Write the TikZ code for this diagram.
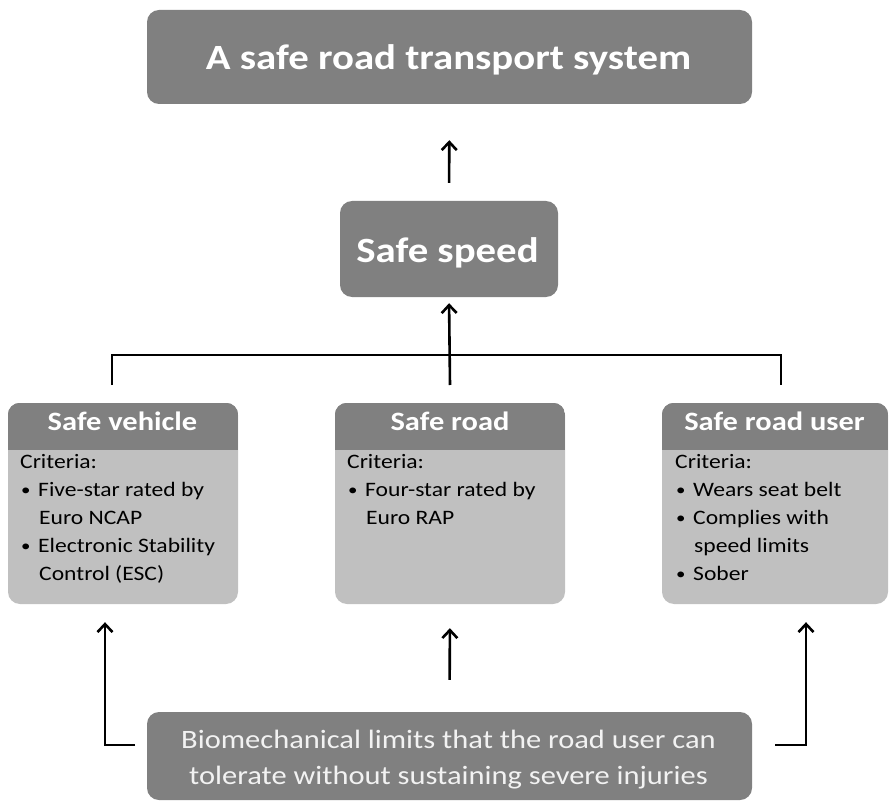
\documentclass[tikz,border=0pt]{standalone}
\usepackage{fontspec}
\setmainfont{Carlito}[FakeStretch=1.15]
\usetikzlibrary{arrows.meta}
\definecolor{darkbox}{RGB}{128,128,128}
\definecolor{lightbox}{RGB}{192,192,192}
\newcommand{\bul}{\hspace*{1pt}\makebox[17pt][l]{\raisebox{1pt}{\scalebox{0.8}{\textbullet}}}}
\newcommand{\cont}{\hspace*{19pt}}
\begin{document}
\begin{tikzpicture}[x=1pt,y=-1pt,
  darkstyle/.style={fill=darkbox, rounded corners=12pt, text=white, inner sep=0pt},
  lightstyle/.style={fill=lightbox, rounded corners=12pt, inner sep=0pt},
  bigtext/.style={font=\fontsize{35.5}{40}\selectfont\bfseries, text=white, anchor=base, inner sep=0pt},
  headtext/.style={font=\fontsize{26.5}{30}\selectfont\bfseries, text=white, anchor=base, inner sep=0pt},
  bodytext/.style={font=\fontsize{20.5}{28}\selectfont, align=left, anchor=north west, inner sep=0pt},
  arr/.style={line width=2.6pt, -{Straight Barb[length=8pt,width=15pt,line width=2.6pt]}},
  plain/.style={line width=2.6pt}]
\useasboundingbox (0,0) rectangle (889,805);

% main boxes
\node[darkstyle, minimum width=605pt, minimum height=94pt] (top) at (449.5,57) {};
\node[bigtext] (toptxt) at (448.5,69.5) {A safe road transport system};
\node[darkstyle, minimum width=218pt, minimum height=96pt] (speed) at (449,249) {};
\node[bigtext] (speedtxt) at (447.5,262) {Safe speed};

% criteria boxes
\node[lightstyle, minimum width=230pt, minimum height=201pt] (vehicle) at (123,503.5) {};
\node[lightstyle, minimum width=230pt, minimum height=201pt] (road) at (450,503.5) {};
\node[lightstyle, minimum width=226pt, minimum height=201pt] (user) at (775,503.5) {};

\foreach \b in {vehicle,road,user}{
  \begin{scope}
    \clip[rounded corners=12pt] (\b.south west) rectangle (\b.north east);
    \fill[darkbox] (\b.north west) rectangle (\b.east |- 0,450);
  \end{scope}
}

\node[headtext] (vh) at (122.5,430) {Safe vehicle};
\node[headtext] (rh) at (450,430) {Safe road};
\node[headtext] (uh) at (774.5,430) {Safe road user};

\node[bodytext] (vb) at (20,454) {Criteria:\\
\bul Five-star rated by\\
\cont Euro NCAP\\
\bul Electronic Stability\\
\cont Control (ESC)};
\node[bodytext] (rb) at (347,454) {Criteria:\\
\bul Four-star rated by\\
\cont Euro RAP};
\node[bodytext] (ub) at (675,454) {Criteria:\\
\bul Wears seat belt\\
\bul Complies with\\
\cont speed limits\\
\bul Sober};

\node[darkstyle, minimum width=605pt, minimum height=88pt] (bottom) at (449.5,756) {};
\node[align=center, inner sep=0pt, font=\fontsize{26.5}{36}\selectfont, text=white!95!black] (bottomtxt) at (448.5,759.5)
  {Biomechanical limits that the road user can\\tolerate without sustaining severe injuries};

% connectors
\draw[arr, shorten <=18pt, shorten >=36pt] (speed.north) -- (top.south);

\coordinate (j) at (450,355);
\coordinate (bl) at (112,385);
\coordinate (br) at (781,385);
\coordinate (bc) at (450,385);
\draw[plain] (bl) |- (j) -| (br);
\draw[arr, shorten >=6pt] (bc) -- (speed.south);

\coordinate (le) at (135,745);
\coordinate (re) at (775,745);
\draw[arr, shorten >=18pt] (le) -| (vehicle.south -| 105,0);
\draw[arr, shorten >=18pt] (re) -| (user.south -| 806,0);
\draw[arr, shorten <=32pt, shorten >=24pt] (bottom.north) -- (road.south);
\end{tikzpicture}
\end{document}
